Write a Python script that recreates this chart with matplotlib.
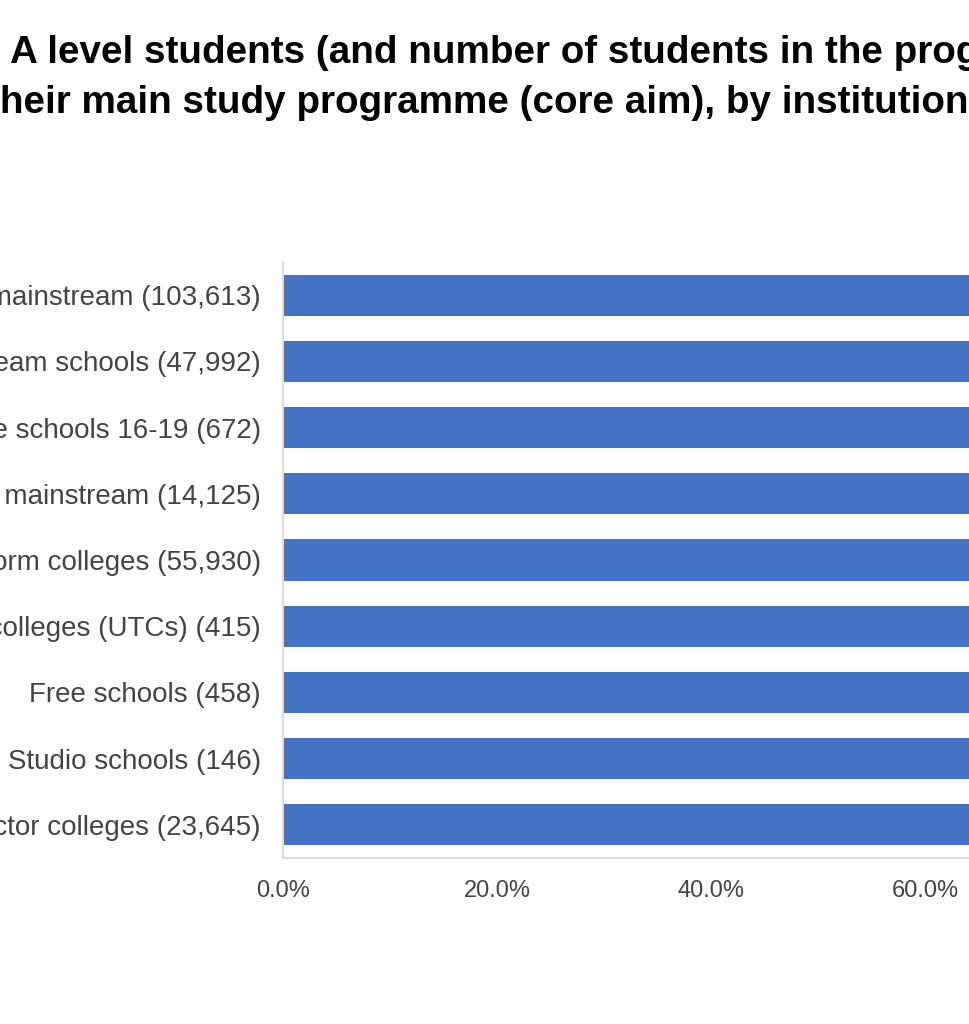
import matplotlib.pyplot as plt
from matplotlib.ticker import PercentFormatter

# institution types (left part of each label is cut off in the reference)
labels = ["Total state-funded mainstream (103,613)",
          "Total state-funded mainstream schools (47,992)",
          "Free schools 16-19 (672)",
          "All other mainstream (14,125)",
          "Sixth form colleges (55,930)",
          "University technical colleges (UTCs) (415)",
          "Free schools (458)",
          "Studio schools (146)",
          "Other FE sector colleges (23,645)"]
# share of students retained on core aim (bars run past the visible area)
values = [0.91, 0.92, 0.88, 0.90, 0.92, 0.86, 0.89, 0.87, 0.89]
xticks = [0.0, 0.2, 0.4, 0.6, 0.8, 1.0]

W, H = 970, 1024
fig = plt.figure(figsize=(W / 100, H / 100), dpi=100)
plt.rcParams['font.family'] = ['Liberation Sans', 'DejaVu Sans']

# axes box runs off the right edge of the picture, as in the cropped reference
ax = fig.add_axes([283 / W, 1 - 858 / H, 1070 / W, (858 - 262) / H])
ax.barh(range(len(values)), values, height=0.62, color='#4472c4')
ax.set_xlim(0, 1.0)
ax.set_ylim(len(values) - 0.5, -0.5)
ax.set_yticks(range(len(labels)))
ax.set_yticklabels(labels, fontsize=20, color='#444444')
ax.set_xticks(xticks)
ax.xaxis.set_major_formatter(PercentFormatter(1.0, decimals=1))
ax.tick_params(axis='x', length=0, pad=16, labelsize=17, labelcolor='#444444')
ax.tick_params(axis='y', length=0, pad=16)
for side in ['top', 'right']:
    ax.spines[side].set_visible(False)
for side in ['left', 'bottom']:
    ax.spines[side].set_color('#dddddd')
    ax.spines[side].set_linewidth(1.5)

fig.text(10 / W, 1 - 63 / H,
         "A level students (and number of students in the programme) who were retained on",
         fontsize=27.8, fontweight='bold', ha='left', va='baseline')
fig.text(-13 / W, 1 - 113 / H,
         "their main study programme (core aim), by institution type",
         fontsize=27.8, fontweight='bold', ha='left', va='baseline')

fig.savefig('out.png', dpi=100)
